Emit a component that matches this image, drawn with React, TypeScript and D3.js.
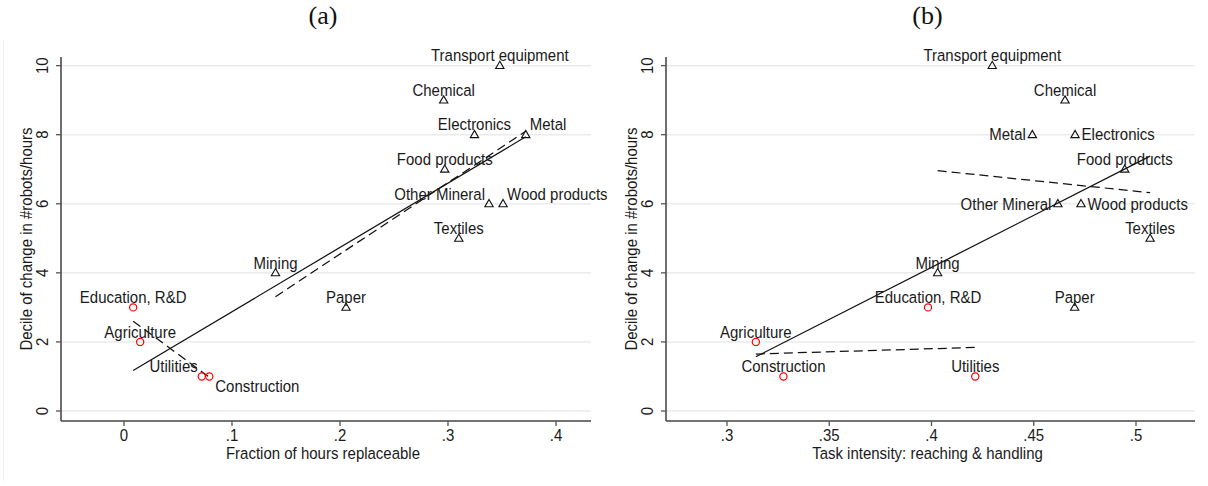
import React from 'react';
import * as d3 from 'd3';

// sectors, ordered
const sectors = [
  'Transport equipment', 'Chemical', 'Electronics', 'Metal', 'Food products',
  'Other Mineral', 'Wood products', 'Textiles', 'Mining', 'Paper',
  'Education, R&D', 'Agriculture', 'Utilities', 'Construction',
];
const decile = [10, 9, 8, 8, 7, 6, 6, 5, 4, 3, 3, 2, 1, 1];
// manufacturing sectors get triangles, the others red circles
const isManufacturing = [true, true, true, true, true, true, true, true, true, true, false, false, false, false];

const fracReplaceable = [0.348, 0.296, 0.3245, 0.372, 0.297, 0.338, 0.351, 0.31, 0.1403, 0.2056, 0.0085, 0.015, 0.072, 0.079];
const reachHandling = [0.4297, 0.4653, 0.4702, 0.4493, 0.4945, 0.4618, 0.4731, 0.5069, 0.403, 0.47, 0.3983, 0.3141, 0.4214, 0.3276];

// marker label clock positions (Stata style)
const labelPosA = [12, 12, 12, 2, 12, 10, 2, 12, 12, 12, 12, 12, 10, 4];
const labelPosB = [12, 12, 3, 9, 12, 9, 3, 12, 12, 12, 12, 12, 12, 12];

// fitted lines [x, y] end points
const fitAllA: [number, number][] = [[0.0085, 1.17], [0.372, 7.94]];
const fitManA: [number, number][] = [[0.1403, 3.31], [0.372, 8.1]];
const fitOthA: [number, number][] = [[0.0085, 2.6], [0.079, 0.98]];
const fitAllB: [number, number][] = [[0.3141, 1.57], [0.5069, 7.38]];
const fitManB: [number, number][] = [[0.403, 6.96], [0.5069, 6.32]];
const fitOthB: [number, number][] = [[0.3141, 1.65], [0.4214, 1.84]];

const yTicks = [0, 2, 4, 6, 8, 10];
const xTicksA = [0, 0.1, 0.2, 0.3, 0.4];
const xTicksB = [0.3, 0.35, 0.4, 0.45, 0.5];

const yTitle = 'Decile of change in #robots/hours';
const FONT = '"Liberation Sans", Arial, sans-serif';
const STRETCH = 1.1; // the source text is a bit taller than plain Arial

const fmt = (v: number) => (v === 0 ? '0' : d3.format('.2~f')(v).replace(/^0\./, '.'));

// sans text, optionally rotated, slightly stretched vertically
const Label: React.FC<{ x: number; y: number; anchor?: string; rotate?: number; children: React.ReactNode }> =
  ({ x, y, anchor = 'middle', rotate = 0, children }) => (
    <text transform={`translate(${x},${y}) rotate(${rotate}) scale(1,${STRETCH})`} textAnchor={anchor}
      dominantBaseline="central" fontFamily={FONT} fontSize={15} fill="#1a1a1a">{children}</text>
  );

interface PanelProps {
  title: string;
  xs: number[];
  labelPos: number[];
  xDomain: [number, number];
  xRange: [number, number];
  xTicks: number[];
  xTitle: string;
  fits: { pts: [number, number][]; dashed: boolean }[];
  clipId: string;
  clipRight: number;
}

const labelPlacement = (pos: number) => {
  switch (pos) {
    case 2: return { anchor: 'start', dx: 4, dy: -10 };
    case 3: return { anchor: 'start', dx: 6.5, dy: 0 };
    case 4: return { anchor: 'start', dx: 6, dy: 10 };
    case 9: return { anchor: 'end', dx: -6.5, dy: 0 };
    case 10: return { anchor: 'end', dx: -4, dy: -10 };
    default: return { anchor: 'middle', dx: 0, dy: -10 };
  }
};

const Panel: React.FC<PanelProps> = ({ title, xs, labelPos, xDomain, xRange, xTicks, xTitle, fits, clipId, clipRight }) => {
  const x = d3.scaleLinear().domain(xDomain).range(xRange);
  const y = d3.scaleLinear().domain([-0.29, 10.25]).range([421, 57]);
  const [x0, x1] = xRange;
  const [yb, yt] = y.range();
  const line = d3.line<[number, number]>().x(d => x(d[0])).y(d => y(d[1]));
  const tri = d3.symbol(d3.symbolTriangle, 30)()!;

  return (
    <g clipPath={`url(#${clipId})`}>
      <defs>
        <clipPath id={clipId}>
          <rect x={clipRight - 620} y={0} width={620} height={486} />
        </clipPath>
      </defs>
      <text x={(x0 + x1) / 2 - 3} y={15} textAnchor="middle" dominantBaseline="central"
        fontFamily='"Liberation Serif", "DejaVu Serif", serif' fontSize={26} fill="#111">{title}</text>

      {yTicks.map(t => (
        <line key={'g' + t} x1={x0} x2={x1} y1={y(t)} y2={y(t)} stroke="#ebebeb" strokeWidth={1.5} />
      ))}

      {fits.map((f, i) => (
        <path key={'f' + i} d={line(f.pts)!} fill="none" stroke="#111" strokeWidth={1.25}
          strokeDasharray={f.dashed ? '9,5' : undefined} />
      ))}

      {xs.map((v, i) => isManufacturing[i] ? (
        <path key={'m' + i} d={tri} transform={`translate(${x(v)},${y(decile[i]) + 0.5})`}
          fill="none" stroke="#111" strokeWidth={1.1} />
      ) : (
        <circle key={'m' + i} cx={x(v)} cy={y(decile[i])} r={3.6} fill="none" stroke="#ff0000" strokeWidth={1.2} />
      ))}

      {xs.map((v, i) => {
        const p = labelPlacement(labelPos[i]);
        return (
          <Label key={'l' + i} x={x(v) + p.dx} y={y(decile[i]) + p.dy} anchor={p.anchor}>{sectors[i]}</Label>
        );
      })}

      <line x1={x0} x2={x0} y1={yt} y2={yb} stroke="#222" strokeWidth={1.3} />
      <line x1={x0} x2={x1} y1={yb} y2={yb} stroke="#444" strokeWidth={1.5} />

      {yTicks.map(t => (
        <g key={'yt' + t}>
          <line x1={x0 - 5} x2={x0} y1={y(t)} y2={y(t)} stroke="#555" strokeWidth={1.3} />
          <Label x={x0 - 18.5} y={y(t)} rotate={-90}>{t}</Label>
        </g>
      ))}
      {xTicks.map(t => (
        <g key={'xt' + t}>
          <line x1={x(t)} x2={x(t)} y1={yb} y2={yb + 5} stroke="#555" strokeWidth={1.3} />
          <Label x={x(t)} y={435}>{fmt(t)}</Label>
        </g>
      ))}

      <Label x={(x0 + x1) / 2 - 3} y={453}>{xTitle}</Label>
      <Label x={x0 - 34.5} y={(yt + yb) / 2} rotate={-90}>{yTitle}</Label>
    </g>
  );
};

export default function App() {
  return (
    <svg width={1208} height={486} style={{ position: 'absolute', left: 0, top: 0, background: '#fff' }}>
      <rect width={1208} height={486} fill="#fff" />
      <line x1={3.5} x2={3.5} y1={40} y2={481} stroke="#f0f0f0" strokeWidth={1} />
      <Panel
        title="(a)"
        xs={fracReplaceable}
        labelPos={labelPosA}
        xDomain={[-0.0583, 0.4324]}
        xRange={[61, 591]}
        xTicks={xTicksA}
        xTitle="Fraction of hours replaceable"
        fits={[{ pts: fitAllA, dashed: false }, { pts: fitManA, dashed: true }, { pts: fitOthA, dashed: true }]}
        clipId="clipA"
        clipRight={607}
      />
      <Panel
        title="(b)"
        xs={reachHandling}
        labelPos={labelPosB}
        xDomain={[0.27017, 0.52885]}
        xRange={[666, 1195]}
        xTicks={xTicksB}
        xTitle="Task intensity: reaching & handling"
        fits={[{ pts: fitAllB, dashed: false }, { pts: fitManB, dashed: true }, { pts: fitOthB, dashed: true }]}
        clipId="clipB"
        clipRight={1208}
      />
    </svg>
  );
}
